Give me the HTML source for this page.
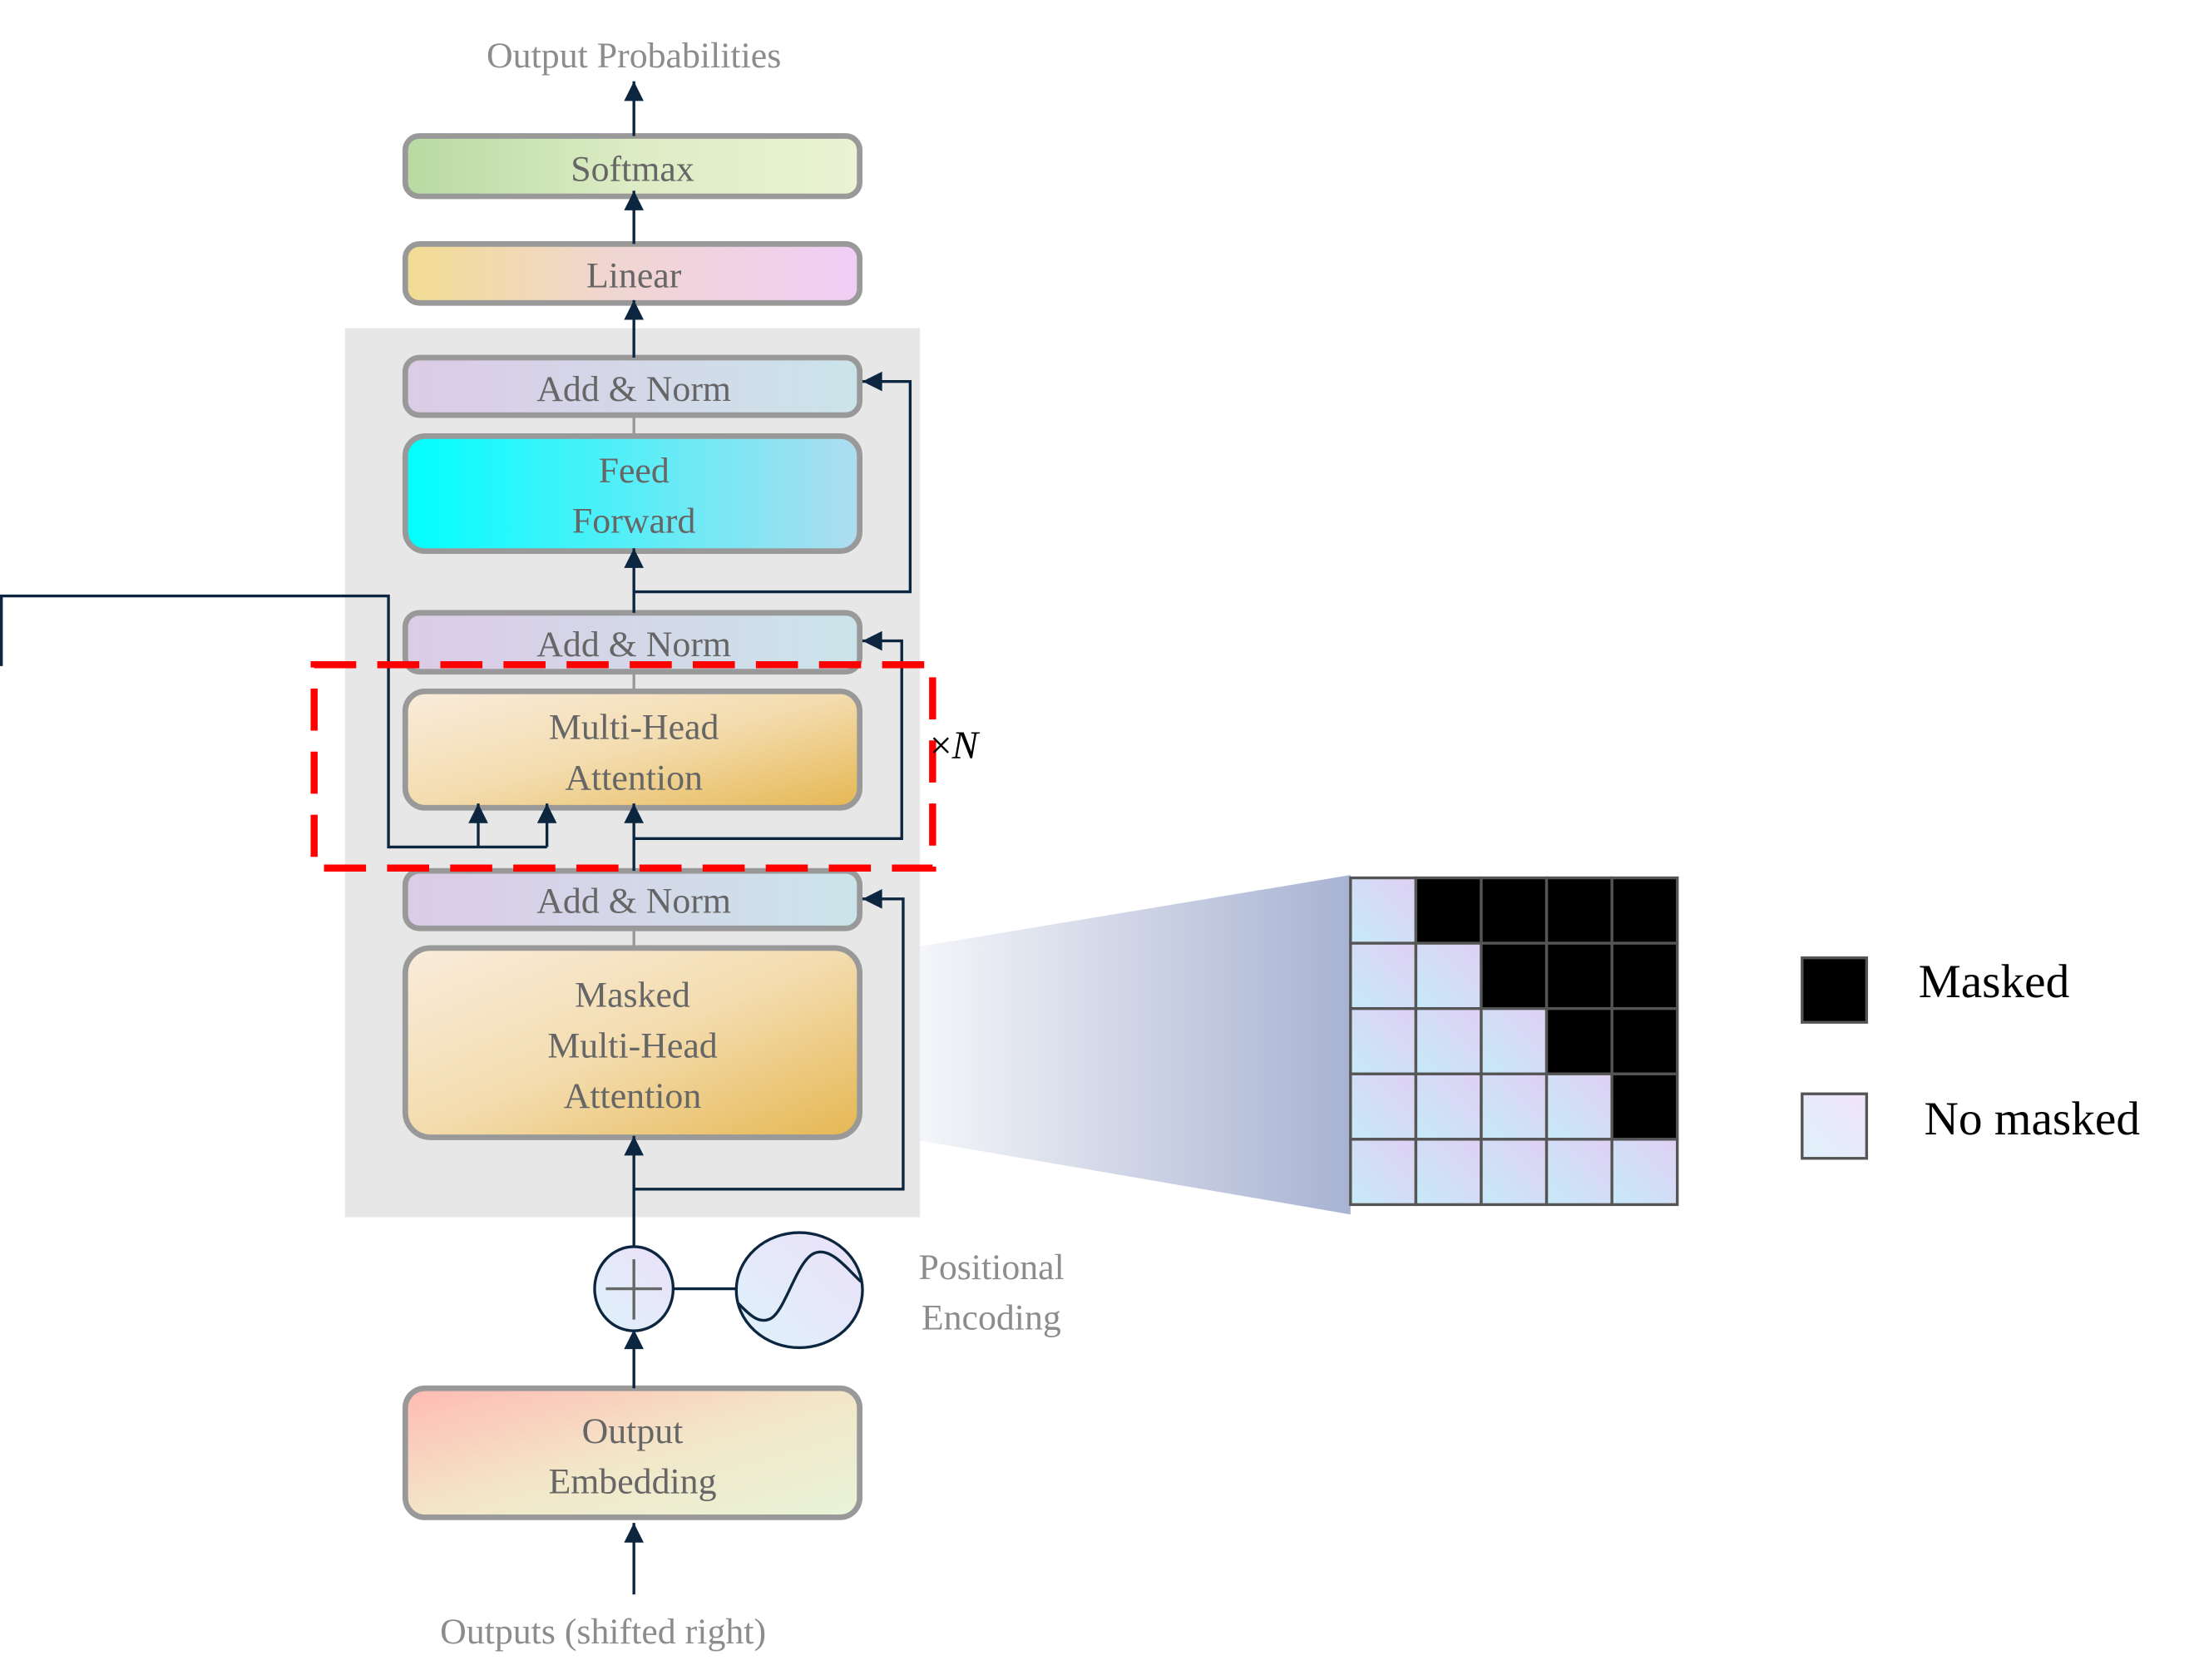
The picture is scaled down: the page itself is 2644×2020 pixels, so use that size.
<!DOCTYPE html>
<html><head><meta charset="utf-8"><style>
html,body{margin:0;padding:0;background:#fff;}
svg{display:block;}
text{font-family:"Liberation Serif",serif;}
</style></head><body>
<svg width="2644" height="2020" viewBox="0 0 1568 1198" preserveAspectRatio="none" xmlns="http://www.w3.org/2000/svg">
<defs>
<linearGradient id="gSoft" x1="0" x2="1" y1="0" y2="0"><stop offset="0" stop-color="#b8daa2"/><stop offset="0.5" stop-color="#dcecc4"/><stop offset="1" stop-color="#eaf3d4"/></linearGradient>
<linearGradient id="gLin" x1="0" x2="1"><stop offset="0" stop-color="#f2dc92"/><stop offset="0.45" stop-color="#f0d6d0"/><stop offset="1" stop-color="#f0cdf6"/></linearGradient>
<linearGradient id="gAN" x1="0" x2="1"><stop offset="0" stop-color="#dccbe6"/><stop offset="1" stop-color="#cbe4ea"/></linearGradient>
<linearGradient id="gFF" x1="0" x2="1"><stop offset="0" stop-color="#00ffff"/><stop offset="1" stop-color="#afdcef"/></linearGradient>
<linearGradient id="gMHA" x1="0" y1="0" x2="1" y2="1"><stop offset="0" stop-color="#f9ecdc"/><stop offset="0.5" stop-color="#f3dcae"/><stop offset="1" stop-color="#e6b752"/></linearGradient>
<linearGradient id="gEmb" x1="0" y1="0" x2="1" y2="1"><stop offset="0" stop-color="#ffbab2"/><stop offset="0.5" stop-color="#f3e6c8"/><stop offset="1" stop-color="#e8f4d8"/></linearGradient>
<linearGradient id="gCirc" x1="0" y1="1" x2="1" y2="0"><stop offset="0" stop-color="#ddf2fb"/><stop offset="1" stop-color="#ece0f8"/></linearGradient>
<linearGradient id="gCell" x1="0" y1="1" x2="1" y2="0"><stop offset="0" stop-color="#c6eaf8"/><stop offset="1" stop-color="#e0d0f4"/></linearGradient>
<linearGradient id="gLeg" x1="0" y1="1" x2="1" y2="0"><stop offset="0" stop-color="#dff2fb"/><stop offset="1" stop-color="#f0e4f8"/></linearGradient>
<linearGradient id="gFun" x1="0" x2="1"><stop offset="0" stop-color="#ffffff"/><stop offset="1" stop-color="#a8b3d2"/></linearGradient>
<marker id="arB" viewBox="0 0 10 10" refX="10" refY="5" markerWidth="18" markerHeight="14" markerUnits="userSpaceOnUse" orient="auto"><path d="M0,0 L10,5 L0,10 z" fill="#0d2640"/></marker>
</defs>

<polygon points="613,682 963,624 963,866 613,806" fill="url(#gFun)"/>

<rect x="246" y="234" width="410" height="634" fill="#e7e7e7"/>

<g stroke="#999" stroke-width="4">
<rect x="289" y="97" width="324" height="43" rx="10" fill="url(#gSoft)"/>
<rect x="289" y="174" width="324" height="42" rx="10" fill="url(#gLin)"/>
<rect x="289" y="255" width="324" height="41" rx="10" fill="url(#gAN)"/>
<rect x="289" y="311" width="324" height="82" rx="14" fill="url(#gFF)"/>
<rect x="289" y="437" width="324" height="42" rx="10" fill="url(#gAN)"/>
<rect x="289" y="493" width="324" height="83" rx="14" fill="url(#gMHA)"/>
<rect x="289" y="621" width="324" height="41" rx="10" fill="url(#gAN)"/>
<rect x="289" y="676" width="324" height="135" rx="18" fill="url(#gMHA)"/>
<rect x="289" y="990" width="324" height="92" rx="14" fill="url(#gEmb)"/>
</g>
<g stroke="#999" stroke-width="2">
<line x1="452" y1="296" x2="452" y2="311"/>
<line x1="452" y1="479" x2="452" y2="493"/>
<line x1="452" y1="662" x2="452" y2="676"/>
</g>

<g fill="#666" font-size="26" text-anchor="middle">
<text x="451" y="129">Softmax</text>
<text x="452" y="205">Linear</text>
<text x="452" y="286">Add &amp; Norm</text>
<text x="452" y="344">Feed</text>
<text x="452" y="380">Forward</text>
<text x="452" y="468">Add &amp; Norm</text>
<text x="452" y="527">Multi-Head</text>
<text x="452" y="563">Attention</text>
<text x="452" y="651">Add &amp; Norm</text>
<text x="451" y="718">Masked</text>
<text x="451" y="754">Multi-Head</text>
<text x="451" y="790">Attention</text>
<text x="451" y="1029">Output</text>
<text x="451" y="1065">Embedding</text>
</g>
<g fill="#8c8c8c" font-size="26">
<text x="452" y="48" text-anchor="middle">Output Probabilities</text>
<text x="430" y="1172" text-anchor="middle">Outputs (shifted right)</text>
<text x="655" y="912">Positional</text>
<text x="657" y="948">Encoding</text>
</g>

<g stroke="#0d2640" stroke-width="2" fill="none">
<line x1="452" y1="97" x2="452" y2="58" marker-end="url(#arB)"/>
<line x1="452" y1="174" x2="452" y2="136" marker-end="url(#arB)"/>
<line x1="452" y1="255" x2="452" y2="214" marker-end="url(#arB)"/>
<line x1="452" y1="437" x2="452" y2="391" marker-end="url(#arB)"/>
<polyline points="452,422 649,422 649,272 615,272" marker-end="url(#arB)"/>
<line x1="452" y1="621" x2="452" y2="573" marker-end="url(#arB)"/>
<polyline points="452,598 643,598 643,457 615,457" marker-end="url(#arB)"/>
<polyline points="1,475 1,425 277,425 277,604 390,604"/>
<line x1="341" y1="604" x2="341" y2="573" marker-end="url(#arB)"/>
<line x1="390" y1="604" x2="390" y2="573" marker-end="url(#arB)"/>
<line x1="452" y1="890" x2="452" y2="810" marker-end="url(#arB)"/>
<polyline points="452,848 644,848 644,641 615,641" marker-end="url(#arB)"/>
<line x1="452" y1="990" x2="452" y2="948" marker-end="url(#arB)"/>
<line x1="452" y1="1137" x2="452" y2="1086" marker-end="url(#arB)"/>
<line x1="480" y1="919" x2="526" y2="919"/>
</g>

<ellipse cx="452" cy="919" rx="28" ry="30" fill="url(#gCirc)" stroke="#0d2640" stroke-width="2"/>
<line x1="432" y1="919" x2="472" y2="919" stroke="#666" stroke-width="2"/>
<line x1="452" y1="898" x2="452" y2="941" stroke="#666" stroke-width="2"/>
<ellipse cx="570" cy="920" rx="45" ry="41" fill="url(#gCirc)" stroke="#0d2640" stroke-width="2"/>
<path d="M526,929 C534,937 541,945 550,940 C560,934 568,900 580,894 C592,888 604,905 614,914" fill="none" stroke="#0d2640" stroke-width="2"/>

<rect x="224" y="474" width="441" height="145" fill="none" stroke="#ff0000" stroke-width="5" stroke-dasharray="30,15"/>
<text x="663" y="541" font-size="28" fill="#000">×<tspan font-style="italic">N</tspan></text>

<g stroke="#555" stroke-width="2">
<rect x="963" y="626" width="46.6" height="46.6" fill="url(#gCell)"/>
<rect x="1009.6" y="626" width="46.6" height="46.6" fill="#000"/>
<rect x="1056.2" y="626" width="46.6" height="46.6" fill="#000"/>
<rect x="1102.8" y="626" width="46.6" height="46.6" fill="#000"/>
<rect x="1149.4" y="626" width="46.6" height="46.6" fill="#000"/>
<rect x="963" y="672.6" width="46.6" height="46.6" fill="url(#gCell)"/>
<rect x="1009.6" y="672.6" width="46.6" height="46.6" fill="url(#gCell)"/>
<rect x="1056.2" y="672.6" width="46.6" height="46.6" fill="#000"/>
<rect x="1102.8" y="672.6" width="46.6" height="46.6" fill="#000"/>
<rect x="1149.4" y="672.6" width="46.6" height="46.6" fill="#000"/>
<rect x="963" y="719.2" width="46.6" height="46.6" fill="url(#gCell)"/>
<rect x="1009.6" y="719.2" width="46.6" height="46.6" fill="url(#gCell)"/>
<rect x="1056.2" y="719.2" width="46.6" height="46.6" fill="url(#gCell)"/>
<rect x="1102.8" y="719.2" width="46.6" height="46.6" fill="#000"/>
<rect x="1149.4" y="719.2" width="46.6" height="46.6" fill="#000"/>
<rect x="963" y="765.8" width="46.6" height="46.6" fill="url(#gCell)"/>
<rect x="1009.6" y="765.8" width="46.6" height="46.6" fill="url(#gCell)"/>
<rect x="1056.2" y="765.8" width="46.6" height="46.6" fill="url(#gCell)"/>
<rect x="1102.8" y="765.8" width="46.6" height="46.6" fill="url(#gCell)"/>
<rect x="1149.4" y="765.8" width="46.6" height="46.6" fill="#000"/>
<rect x="963" y="812.4" width="46.6" height="46.6" fill="url(#gCell)"/>
<rect x="1009.6" y="812.4" width="46.6" height="46.6" fill="url(#gCell)"/>
<rect x="1056.2" y="812.4" width="46.6" height="46.6" fill="url(#gCell)"/>
<rect x="1102.8" y="812.4" width="46.6" height="46.6" fill="url(#gCell)"/>
<rect x="1149.4" y="812.4" width="46.6" height="46.6" fill="url(#gCell)"/>
</g>

<rect x="1285" y="683" width="46" height="46" fill="#000" stroke="#555" stroke-width="2"/>
<rect x="1285" y="780" width="46" height="46" fill="url(#gLeg)" stroke="#555" stroke-width="2"/>
<text x="1368" y="711" font-size="34" fill="#000">Masked</text>
<text x="1372" y="809" font-size="34" fill="#000">No masked</text>
</svg>
</body></html>
